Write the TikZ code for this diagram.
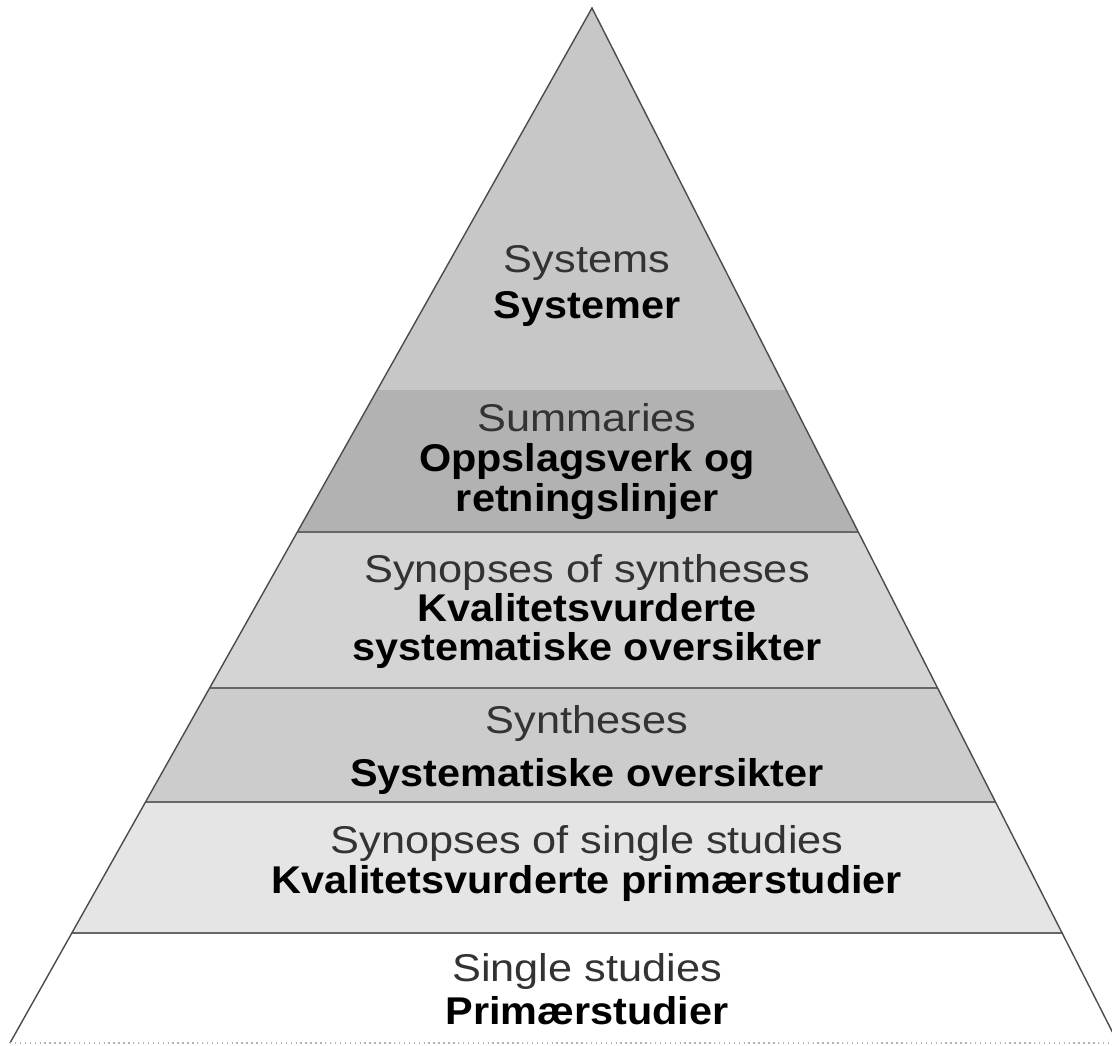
\documentclass[tikz,border=0pt]{standalone}
\usepackage{fontspec}
\setmainfont{Liberation Sans}
\newfontfamily\enfont{Liberation Sans}[FakeStretch=1.12]
\newfontfamily\nofont{Liberation Sans}[FakeStretch=1.07]
\usetikzlibrary{calc}
\tikzset{
  entext/.style={anchor=base, text=black!80, font=\enfont\fontsize{11}{13}\selectfont},
  notext/.style={anchor=base, font=\nofont\bfseries\fontsize{11}{13}\selectfont},
}
\begin{document}
\begin{tikzpicture}[x=0.01cm,y=-0.01cm]
    \useasboundingbox (0,0) rectangle (1112,1045);
    \coordinate (top) at (592,8);
    \coordinate (bl) at (10,1043);
    \coordinate (br) at (1118,1043);
    % bands, top to bottom
    \foreach \a/\b/\c in {0/.3691/black!22, .3691/.5063/black!30, .5063/.6570/black!17,
                          .6570/.7671/black!20, .7671/.8937/black!10}{
      \fill[\c] ($(top)!\a!(bl)$) -- ($(top)!\b!(bl)$) -- ($(top)!\b!(br)$) -- ($(top)!\a!(br)$) -- cycle;
    }
    \foreach \t in {.5063,.6570,.7671,.8937}
      \draw[black!60,line width=0.8pt] ($(top)!\t!(bl)$) -- ($(top)!\t!(br)$);
    \draw[black!70] (bl) -- (top) -- (br); %sides
    \draw[black!30,densely dotted] (bl) -- (br);
    % labels
    \node[entext] (sysen) at (587,272) {Systems};
    \node[notext] (sysno) at (587,318) {Systemer};
    \node[entext] (sumen) at (587,431) {Summaries};
    \node[notext] (sumnoa) at (587,471) {Oppslagsverk og};
    \node[notext] (sumnob) at (587,511) {retningslinjer};
    \node[entext] (synsynen) at (587,582) {Synopses of syntheses};
    \node[notext] (synsynnoa) at (587,621) {Kvalitetsvurderte};
    \node[notext] (synsynnob) at (587,660) {systematiske oversikter};
    \node[entext] (synen) at (587,733) {Syntheses};
    \node[notext] (synno) at (587,786) {Systematiske oversikter};
    \node[entext] (synsinen) at (587,853) {Synopses of single studies};
    \node[notext] (synsinno) at (587,893) {Kvalitetsvurderte primærstudier};
    \node[entext] (sinen) at (587,981) {Single studies};
    \node[notext] (sinno) at (587,1024) {Primærstudier};
\end{tikzpicture}
\end{document}
